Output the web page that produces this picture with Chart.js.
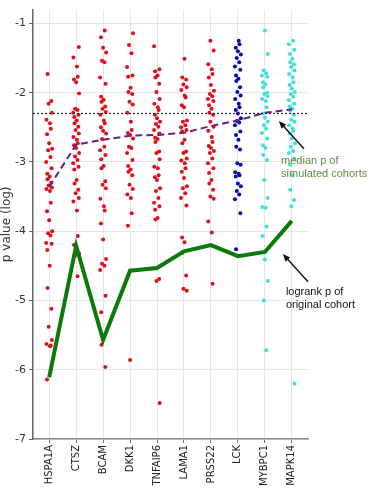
<!DOCTYPE html>
<html>
<head>
<meta charset="utf-8">
<script src="https://cdn.jsdelivr.net/npm/chart.js@4.4.1/dist/chart.umd.min.js"></script>
<style>
  html, body { margin: 0; padding: 0; background: #fff; }
  #wrap { width: 374px; height: 490px; }
</style>
</head>
<body>
<div id="wrap"><canvas id="chart"></canvas></div>
<script>
const genes = ["HSPA1A", "CTSZ", "BCAM", "DKK1", "TNFAIP6", "LAMA1", "PRSS22", "LCK", "MYBPC1", "MAPK14"];

// log p of the simulated cohorts, one array per gene
const pHSPA1A = [-1.73, -2.12, -2.16, -2.29, -2.39, -2.44, -2.52, -2.60, -2.73, -2.81, -2.83, -2.93, -3.00, -3.09, -3.17, -3.21, -3.25, -3.30, -3.34, -3.37, -3.39, -3.42, -3.59, -3.71, -3.84, -4.00, -4.03, -4.06, -4.17, -4.18, -4.27, -4.50, -4.82, -5.12, -5.38, -5.57, -5.63, -5.66, -5.65, -6.14];
const pCTSZ = [-1.34, -1.49, -1.62, -1.77, -1.81, -1.85, -2.01, -2.23, -2.25, -2.29, -2.32, -2.35, -2.40, -2.44, -2.49, -2.54, -2.59, -2.64, -2.68, -2.73, -2.76, -2.80, -2.87, -2.92, -2.97, -3.02, -3.07, -3.11, -3.26, -3.31, -3.40, -3.45, -3.52, -3.57, -3.70, -4.07, -4.20, -4.22, -4.32, -4.35, -4.65];
const pBCAM = [-1.10, -1.20, -1.35, -1.42, -1.54, -1.56, -1.78, -1.87, -2.06, -2.10, -2.13, -2.20, -2.23, -2.28, -2.32, -2.40, -2.44, -2.50, -2.55, -2.59, -2.67, -2.78, -2.83, -2.90, -2.96, -3.06, -3.09, -3.28, -3.33, -3.38, -3.53, -3.64, -3.70, -3.89, -4.12, -4.40, -4.47, -4.50, -4.56, -4.93, -5.17, -5.53, -5.64, -5.96];
const pDKK1 = [-1.14, -1.31, -1.43, -1.63, -1.75, -1.77, -1.93, -1.99, -2.02, -2.13, -2.17, -2.29, -2.42, -2.54, -2.58, -2.61, -2.66, -2.78, -2.80, -2.87, -2.97, -3.06, -3.11, -3.14, -3.19, -3.33, -3.39, -3.47, -3.52, -3.74, -3.92, -5.86];
const pTNFAIP6 = [-1.33, -1.66, -1.69, -1.75, -1.78, -1.87, -1.99, -2.09, -2.16, -2.21, -2.25, -2.32, -2.37, -2.42, -2.45, -2.49, -2.54, -2.59, -2.65, -2.67, -2.71, -2.85, -2.87, -2.96, -3.07, -3.09, -3.19, -3.22, -3.26, -3.38, -3.42, -3.52, -3.59, -3.64, -3.69, -3.81, -3.83, -4.69, -4.72, -6.48];
const pLAMA1 = [-1.51, -1.78, -1.81, -1.88, -1.92, -1.96, -2.04, -2.07, -2.18, -2.21, -2.40, -2.42, -2.47, -2.50, -2.54, -2.56, -2.68, -2.73, -2.85, -2.87, -2.95, -2.98, -3.02, -3.09, -3.14, -3.23, -3.35, -3.38, -3.45, -3.52, -3.63, -4.09, -4.16, -4.31, -4.64, -4.83, -4.86];
const pPRSS22 = [-1.25, -1.39, -1.59, -1.66, -1.73, -1.78, -1.89, -1.97, -2.02, -2.05, -2.09, -2.12, -2.18, -2.23, -2.29, -2.32, -2.42, -2.49, -2.55, -2.64, -2.71, -2.77, -2.80, -2.84, -2.87, -2.95, -3.02, -3.09, -3.16, -3.26, -3.31, -3.40, -3.50, -3.53, -3.86, -4.02, -4.76];
const pLCK = [-1.25, -1.30, -1.35, -1.40, -1.45, -1.50, -1.56, -1.62, -1.67, -1.75, -1.80, -1.83, -1.92, -1.99, -2.04, -2.09, -2.16, -2.21, -2.25, -2.30, -2.37, -2.41, -2.43, -2.47, -2.56, -2.61, -2.68, -2.78, -2.82, -3.02, -3.04, -3.15, -3.17, -3.19, -3.21, -3.31, -3.35, -3.42, -3.47, -3.54, -3.74, -4.26];
const pMYBPC1 = [-1.10, -1.44, -1.68, -1.72, -1.75, -1.77, -1.85, -1.88, -1.92, -2.00, -2.02, -2.05, -2.09, -2.12, -2.21, -2.30, -2.36, -2.42, -2.47, -2.52, -2.58, -2.66, -2.76, -2.80, -2.90, -2.97, -3.26, -3.52, -3.65, -3.66, -3.93, -4.07, -4.41, -4.72, -5.00, -5.72];
const pMAPK14 = [-1.25, -1.30, -1.38, -1.44, -1.51, -1.56, -1.59, -1.63, -1.68, -1.73, -1.78, -1.85, -1.89, -1.94, -1.99, -2.02, -2.06, -2.11, -2.16, -2.20, -2.23, -2.26, -2.32, -2.39, -2.42, -2.47, -2.52, -2.55, -2.59, -2.66, -2.73, -2.78, -2.84, -2.87, -2.95, -3.04, -3.19, -3.40, -3.55, -3.64, -6.20];

const simulated = [pHSPA1A, pCTSZ, pBCAM, pDKK1, pTNFAIP6, pLAMA1, pPRSS22, pLCK, pMYBPC1, pMAPK14];
const dotColors = ["#e0101a", "#e0101a", "#e0101a", "#e0101a", "#e0101a", "#e0101a", "#e0101a", "#0a0ab0", "#3ee0e0", "#3ee0e0"];

const medianP = [-3.36, -2.75, -2.68, -2.62, -2.61, -2.58, -2.48, -2.40, -2.29, -2.24];
const logrankP = [-6.11, -4.21, -5.57, -4.57, -4.53, -4.29, -4.20, -4.36, -4.30, -3.85];
const cutoff = -2.3;

// fixed strip-plot spread, in category units
const jitter = [-0.06, 0.08, -0.02, 0.1, -0.1, 0.03, 0.06, -0.08, 0.0, 0.11, -0.04, 0.05, -0.11, 0.09, -0.07, 0.02];

const X_MIN = -0.6, X_MAX = 9.6;

const datasets = [];

datasets.push({
  label: "logrank",
  data: logrankP.map((v, i) => ({ x: i, y: v })),
  showLine: true,
  borderColor: "#0b7a0b",
  borderWidth: 4,
  pointRadius: 0,
  order: 0,
});
datasets.push({
  label: "median",
  data: medianP.map((v, i) => ({ x: i, y: v })),
  showLine: true,
  borderColor: "#6b1d80",
  borderWidth: 2,
  borderDash: [7, 4],
  pointRadius: 0,
  order: 1,
});
datasets.push({
  label: "cutoff",
  data: [{ x: X_MIN, y: cutoff }, { x: X_MAX, y: cutoff }],
  showLine: true,
  borderColor: "#222",
  borderWidth: 1.2,
  borderDash: [2, 2],
  pointRadius: 0,
  order: 2,
});

simulated.forEach((vals, i) => {
  datasets.push({
    label: genes[i],
    data: vals.map((v, k) => ({ x: i + jitter[(k + i * 3) % jitter.length], y: v })),
    showLine: false,
    pointRadius: 2,
    pointBorderWidth: 0,
    pointBackgroundColor: dotColors[i],
    order: 5,
  });
});

// arrows and notes, placed in data units
const notes = [
  { lines: ["median p of", "simulated cohorts"], color: "#5f8a44", tx: 8.6, ty: -2.98, from: [9.45, -2.81], to: [8.52, -2.41] },
  { lines: ["logrank p of", "original cohort"], color: "#111", tx: 8.78, ty: -4.87, from: [9.6, -4.73], to: [8.67, -4.33] },
];

const notesPlugin = {
  id: "notes",
  afterDraw(chart) {
    const { ctx, scales: { x, y } } = chart;
    ctx.save();
    notes.forEach((n) => {
      const x1 = x.getPixelForValue(n.from[0]), y1 = y.getPixelForValue(n.from[1]);
      const x2 = x.getPixelForValue(n.to[0]), y2 = y.getPixelForValue(n.to[1]);
      const a = Math.atan2(y2 - y1, x2 - x1);
      ctx.strokeStyle = "#111";
      ctx.fillStyle = "#111";
      ctx.lineWidth = 1.4;
      ctx.beginPath();
      ctx.moveTo(x1, y1);
      ctx.lineTo(x2 - 4 * Math.cos(a), y2 - 4 * Math.sin(a));
      ctx.stroke();
      ctx.beginPath();
      ctx.moveTo(x2, y2);
      ctx.lineTo(x2 - 8 * Math.cos(a - 0.4), y2 - 8 * Math.sin(a - 0.4));
      ctx.lineTo(x2 - 8 * Math.cos(a + 0.4), y2 - 8 * Math.sin(a + 0.4));
      ctx.closePath();
      ctx.fill();

      ctx.font = "11px 'Liberation Sans', Arial, sans-serif";
      ctx.fillStyle = n.color;
      ctx.textBaseline = "middle";
      ctx.textAlign = "left";
      const tx = x.getPixelForValue(n.tx), ty = y.getPixelForValue(n.ty);
      n.lines.forEach((t, k) => ctx.fillText(t, tx, ty + k * 13));
    });
    ctx.restore();
  },
};

new Chart(document.getElementById("chart"), {
  type: "scatter",
  data: { datasets },
  options: {
    responsive: true,
    maintainAspectRatio: false,
    animation: false,
    layout: { padding: { top: 8, right: 66, left: 0, bottom: 0 } },
    plugins: { legend: { display: false }, tooltip: { enabled: false } },
    scales: {
      x: {
        type: "linear",
        min: X_MIN,
        max: X_MAX,
        afterBuildTicks: (s) => { s.ticks = genes.map((g, i) => ({ value: i })); },
        afterFit: (s) => { s.height = 51; },
        ticks: {
          autoSkip: false,
          maxRotation: 90,
          minRotation: 90,
          padding: 2,
          color: "#222",
          font: { family: "'DejaVu Sans', sans-serif", size: 10 },
          callback: (v, i) => genes[i],
        },
        grid: { color: "#e6e6e6", tickLength: 4, tickColor: "#777" },
        border: { color: "#888", width: 1.5 },
      },
      y: {
        min: -7,
        max: -0.8,
        afterBuildTicks: (s) => { s.ticks = [-7, -6, -5, -4, -3, -2, -1].map((v) => ({ value: v })); },
        afterFit: (s) => { s.width = 33; },
        ticks: {
          padding: 3,
          color: "#333",
          font: { family: "'DejaVu Sans', sans-serif", size: 11 },
        },
        grid: { color: "#e6e6e6", tickLength: 4, tickColor: "#666" },
        border: { color: "#666", width: 1.5 },
        title: {
          display: true,
          text: "p value (log)",
          color: "#333",
          padding: 0,
          font: { family: "'DejaVu Sans', sans-serif", size: 12 },
        },
      },
    },
  },
  plugins: [notesPlugin],
});
</script>
</body>
</html>
